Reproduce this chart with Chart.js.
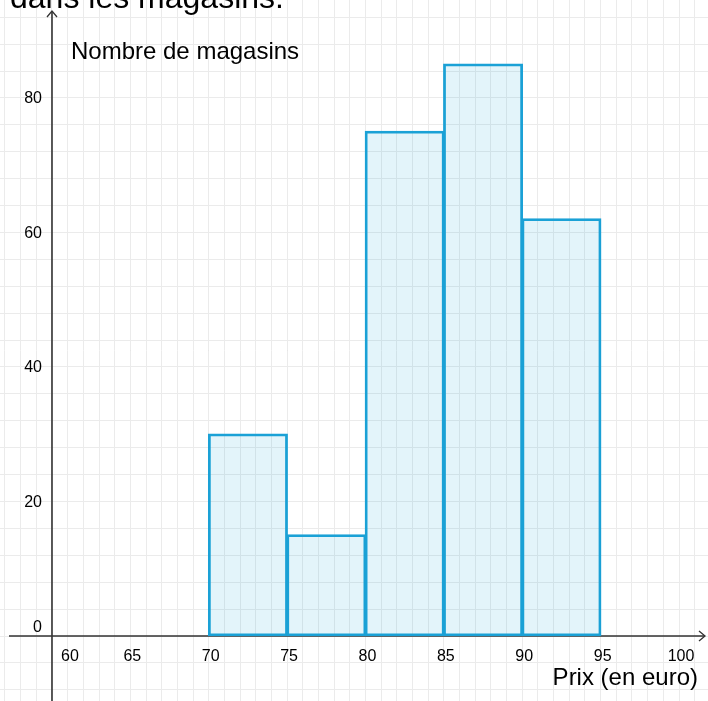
<!DOCTYPE html>
<html lang="fr">
<head>
    <meta charset="UTF-8">
    <title>Histogramme des prix</title>
    <script src="https://cdn.jsdelivr.net/npm/chart.js@4.4.1/dist/chart.umd.min.js"></script>
    <style>
        html, body { margin: 0; padding: 0; background: #fff; }
        canvas { display: block; }
    </style>
</head>
<body>
    <canvas id="chart" width="708" height="701"></canvas>
    <script>
        // classes de prix (bornes) et effectifs
        const binEdges = [70, 75, 80, 85, 90, 95];
        const counts = [30, 15, 75, 85, 62];

        const xTicks = [60, 65, 70, 75, 80, 85, 90, 95, 100];
        const yTicks = [0, 20, 40, 60, 80];

        const topText = 'dans les magasins.';
        const yTitle = 'Nombre de magasins';
        const xTitle = 'Prix (en euro)';

        const bars = counts.map((c, i) => ({ x: (binEdges[i] + binEdges[i + 1]) / 2, y: c }));

        const FONT = '"Liberation Sans", Arial, sans-serif';
        const MAJOR = '#c6c6c6';
        const MINOR = '#ebebeb';

        function gridAxis(min, max, step, color, z) {
            return {
                type: 'linear', min: min, max: max, offset: false, z: z,
                ticks: { display: false, stepSize: step, includeBounds: false },
                grid: { color: color, lineWidth: 1, drawTicks: false, offset: false },
                border: { display: false }
            };
        }

        // axes, flèches et textes
        const decor = {
            id: 'decor',
            beforeDatasetsDraw(chart) {
                const { ctx, scales: { x, y } } = chart;
                const ox = x.getPixelForValue(60), oy = y.getPixelForValue(0);
                ctx.save();
                ctx.strokeStyle = '#333';
                ctx.lineWidth = 1.6;
                ctx.beginPath();
                ctx.moveTo(x.left + 9, oy); ctx.lineTo(x.right - 3, oy);
                ctx.moveTo(ox, y.bottom); ctx.lineTo(ox, y.top + 11);
                ctx.stroke();
                ctx.lineWidth = 1.3;
                ctx.beginPath();
                ctx.moveTo(x.right - 9, oy - 5); ctx.lineTo(x.right - 3, oy); ctx.lineTo(x.right - 9, oy + 5);
                ctx.moveTo(ox - 5, y.top + 17); ctx.lineTo(ox, y.top + 11); ctx.lineTo(ox + 5, y.top + 17);
                ctx.stroke();
                ctx.restore();
            },
            afterDraw(chart) {
                const { ctx, scales: { x, y } } = chart;
                const ox = x.getPixelForValue(60), oy = y.getPixelForValue(0);
                ctx.save();
                ctx.fillStyle = '#000';
                ctx.font = '16px ' + FONT;
                ctx.textBaseline = 'middle';
                ctx.textAlign = 'center';
                xTicks.forEach(v => {
                    const px = x.getPixelForValue(v) + (v === 60 ? 18 : 2);
                    ctx.fillText(String(v), px, oy + 21);
                });
                ctx.textAlign = 'right';
                yTicks.forEach(v => {
                    const py = y.getPixelForValue(v) + (v === 0 ? -8 : 1);
                    ctx.fillText(String(v), ox - 10, py);
                });
                ctx.textBaseline = 'alphabetic';
                ctx.textAlign = 'left';
                ctx.font = '24px ' + FONT;
                ctx.fillText(yTitle, ox + 19, y.top + 59);
                ctx.textAlign = 'right';
                ctx.fillText(xTitle, x.right - 10, oy + 49);
                ctx.textAlign = 'left';
                ctx.font = '32px ' + FONT;
                ctx.fillText(topText, x.left + 10, y.top + 8);
                ctx.restore();
            }
        };

        new Chart(document.getElementById('chart'), {
            type: 'bar',
            data: {
                datasets: [{
                    data: bars,
                    xAxisID: 'x',
                    yAxisID: 'y',
                    backgroundColor: 'rgba(27, 161, 214, 0.12)',
                    borderColor: '#1ba1d6',
                    borderWidth: 1.2,
                    inflateAmount: 0.8,
                    barPercentage: 1,
                    categoryPercentage: 1,
                    borderSkipped: false
                }]
            },
            options: {
                responsive: false,
                animation: false,
                devicePixelRatio: 1,
                layout: { padding: 0 },
                plugins: { legend: { display: false }, tooltip: { enabled: false } },
                scales: {
                    x: gridAxis(56.683, 101.85, 5, MAJOR, -1),
                    y: gridAxis(-9.665, 94.57, 20, MAJOR, -1),
                    xMinor: gridAxis(56.683, 101.85, 1, MINOR, -2),
                    yMinor: gridAxis(-9.665, 94.57, 4, MINOR, -2)
                }
            },
            plugins: [decor]
        });
    </script>
</body>
</html>
